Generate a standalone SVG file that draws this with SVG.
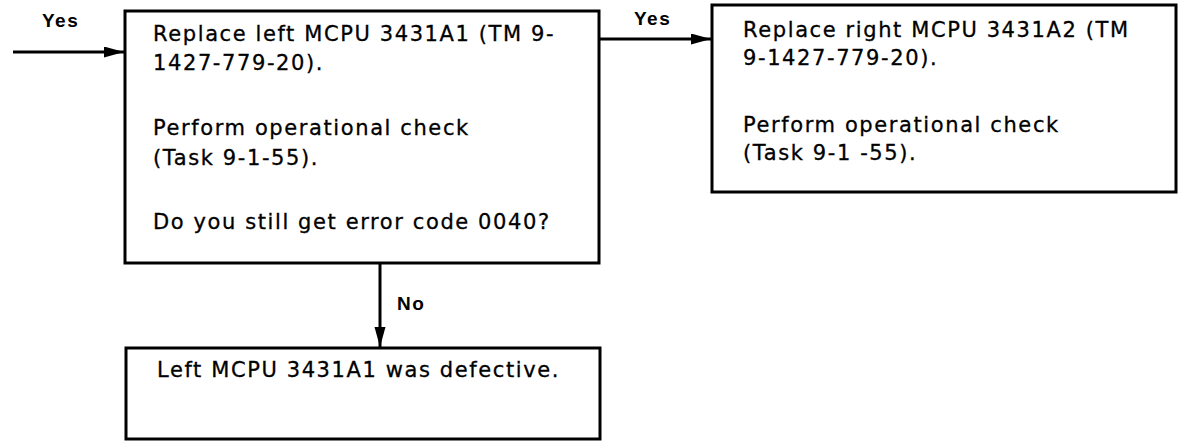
<svg xmlns="http://www.w3.org/2000/svg" width="1178" height="442" viewBox="0 0 1178 442">
<defs>
<style>
.box{fill:#fff;stroke:#000;stroke-width:3}
.t{font-family:"DejaVu Sans","Liberation Sans",Arial,sans-serif;font-size:21px;letter-spacing:1.6px;fill:#000;stroke:#000;stroke-width:0.3}
.lbl{font-family:"Liberation Sans",Arial,sans-serif;font-size:19px;font-weight:bold;letter-spacing:1.5px;fill:#000}
.conn{stroke:#000;stroke-width:3;fill:none}
</style>
<marker id="arr" markerUnits="userSpaceOnUse" markerWidth="22" markerHeight="12" refX="20" refY="5.5" orient="auto">
<path d="M0,0 L20,5.5 L0,11 z" fill="#000"/>
</marker>
</defs>
<rect width="1178" height="442" fill="#fff"/>
<g id="connectors">
<line class="conn" x1="13" y1="52" x2="124" y2="52" marker-end="url(#arr)"/>
<text class="lbl" x="42" y="27">Yes</text>
<line class="conn" x1="599" y1="39" x2="711" y2="39" marker-end="url(#arr)"/>
<text class="lbl" x="634" y="25">Yes</text>
<line class="conn" x1="380" y1="263" x2="380" y2="347" marker-end="url(#arr)"/>
<text class="lbl" x="397" y="310">No</text>
</g>
<g id="node-replace-left">
<rect class="box" x="125" y="11" width="474" height="252"/>
<text class="t" x="153" y="41">Replace left MCPU 3431A1 (TM 9-</text>
<text class="t" x="153" y="70">1427-779-20).</text>
<text class="t" x="153" y="135">Perform operational check</text>
<text class="t" x="153" y="165">(Task 9-1-55).</text>
<text class="t" x="153" y="229">Do you still get error code 0040?</text>
</g>
<g id="node-replace-right">
<rect class="box" x="712" y="5" width="464" height="187"/>
<text class="t" x="743" y="37">Replace right MCPU 3431A2 (TM</text>
<text class="t" x="743" y="65">9-1427-779-20).</text>
<text class="t" x="743" y="132">Perform operational check</text>
<text class="t" x="743" y="160">(Task 9-1 -55).</text>
</g>
<g id="node-defective">
<rect class="box" x="126" y="348" width="474" height="91"/>
<text class="t" x="157" y="377">Left MCPU 3431A1 was defective.</text>
</g>
</svg>
